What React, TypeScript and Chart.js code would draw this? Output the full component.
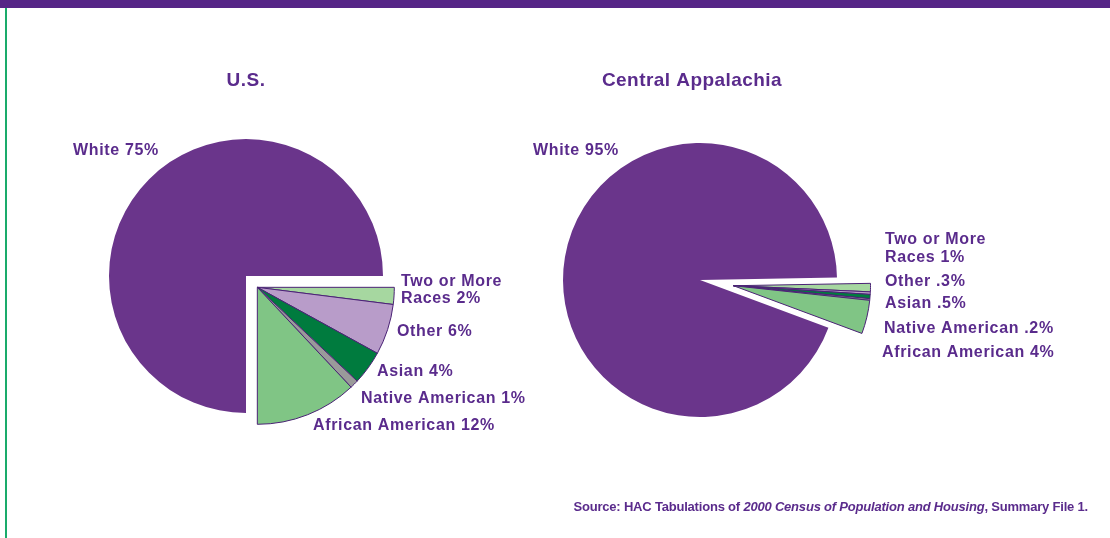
import React, { useEffect, useRef } from "react";
import { Chart, ArcElement, PieController } from "chart.js";

Chart.register(ArcElement, PieController);

const categories = ["Two or More Races", "Other", "Asian", "Native American", "African American", "White"];
const usValues = [2, 6, 4, 1, 12, 75];
const caValues = [1, 0.3, 0.5, 0.2, 4, 95];
const usLabels = [["Two or More", "Races 2%"], ["Other 6%"], ["Asian 4%"], ["Native American 1%"], ["African American 12%"], ["White 75%"]];
const caLabels = [["Two or More", "Races 1%"], ["Other .3%"], ["Asian .5%"], ["Native American .2%"], ["African American 4%"], ["White 95%"]];

const TEXT = "#5a2b8c";
const FONT = '"Liberation Sans", Arial, sans-serif';
const sliceColors = ["#a6d7a0", "#b89cc9", "#007b3e", "#9a9a9a", "#80c585", "#6a358b"];
const sliceBorders = ["#4a2275", "#4a2275", "#4a2275", "#4a2275", "#4a2275", "#6a358b"];

const explodePlugin = {
  id: "explode",
  afterDatasetsUpdate(chart: any, _args: any, opts: any) {
    const arcs = chart.getDatasetMeta(0).data as any[];
    const n = opts.count;
    if (!arcs.length) return;
    const mid = (arcs[0].startAngle + arcs[n - 1].endAngle) / 2;
    for (let i = 0; i < n; i++) {
      arcs[i].x += Math.cos(mid) * opts.distance;
      arcs[i].y += Math.sin(mid) * opts.distance;
    }
  },
};

const labelPlugin = {
  id: "pieLabels",
  afterDraw(chart: any, _args: any, opts: any) {
    const ctx = chart.ctx as CanvasRenderingContext2D;
    ctx.save();
    ctx.fillStyle = TEXT;
    ctx.textBaseline = "alphabetic";
    // title
    (ctx as any).letterSpacing = "0.45px";
    ctx.font = `bold 19px ${FONT}`;
    ctx.textAlign = "center";
    ctx.fillText(opts.title, opts.titlePos[0], opts.titlePos[1]);
    // slice labels
    (ctx as any).letterSpacing = "0.65px";
    ctx.font = `bold 16px ${FONT}`;
    ctx.textAlign = "left";
    opts.labels.forEach((lines: string[], i: number) => {
      const [x, y] = opts.positions[i];
      lines.forEach((line, j) => ctx.fillText(line, x, y + j * opts.lineHeight));
    });
    ctx.restore();
  },
};

function makeChart(canvas: HTMLCanvasElement, values: number[], cfg: any) {
  return new Chart(canvas, {
    type: "pie",
    data: {
      labels: categories,
      datasets: [
        {
          data: values,
          backgroundColor: sliceColors,
          borderColor: sliceBorders,
          borderWidth: [1, 1, 1, 1, 1, 0],
          radius: 137,
        } as any,
      ],
    },
    options: {
      responsive: false,
      animation: false,
      events: [],
      rotation: cfg.rotation,
      layout: { padding: cfg.padding },
      plugins: {
        legend: { display: false },
        tooltip: { enabled: false },
        explode: { count: 5, distance: cfg.distance },
        pieLabels: {
          title: cfg.title,
          titlePos: cfg.titlePos,
          labels: cfg.labels,
          positions: cfg.positions,
          lineHeight: cfg.lineHeight,
        },
      } as any,
    },
    plugins: [explodePlugin, labelPlugin],
  });
}

export default function App() {
  const ref1 = useRef<HTMLCanvasElement>(null);
  const ref2 = useRef<HTMLCanvasElement>(null);

  useEffect(() => {
    const c1 = makeChart(ref1.current!, usValues, {
      rotation: 90,
      distance: 16,
      padding: { left: 0, right: 618, top: 14, bottom: 0 },
      title: "U.S.",
      titlePos: [246, 86],
      labels: usLabels,
      positions: [[401, 286], [397, 336], [377, 376], [361, 403], [313, 430], [73, 155]],
      lineHeight: 17,
    });
    const c2 = makeChart(ref2.current!, caValues, {
      rotation: 89,
      distance: 34,
      padding: { left: 290, right: 0, top: 22, bottom: 0 },
      title: "Central Appalachia",
      titlePos: [692, 86],
      labels: caLabels,
      positions: [[885, 244], [885, 286], [885, 308], [884, 333], [882, 357], [533, 155]],
      lineHeight: 18,
    });
    return () => {
      c1.destroy();
      c2.destroy();
    };
  }, []);

  return (
    <div style={{ position: "fixed", left: 0, top: 0, width: 1110, height: 538, background: "#fff", overflow: "hidden" }}>
      <div style={{ position: "absolute", left: 0, top: 0, width: 1110, height: 8, background: "#562687" }} />
      <div style={{ position: "absolute", left: 5, top: 8, width: 2, height: 530, background: "#1aab6b" }} />
      <canvas ref={ref1} width={1110} height={538} style={{ position: "absolute", left: 0, top: 0 }} />
      <canvas ref={ref2} width={1110} height={538} style={{ position: "absolute", left: 0, top: 0 }} />
      <div
        style={{
          position: "absolute",
          right: 22,
          top: 500,
          fontFamily: FONT,
          fontSize: 13,
          lineHeight: "13px",
          fontWeight: "bold",
          color: TEXT,
          whiteSpace: "nowrap",
          letterSpacing: "-0.2px",
        }}
      >
        Source: HAC Tabulations of <i>2000 Census of Population and Housing</i>, Summary File 1.
      </div>
    </div>
  );
}
